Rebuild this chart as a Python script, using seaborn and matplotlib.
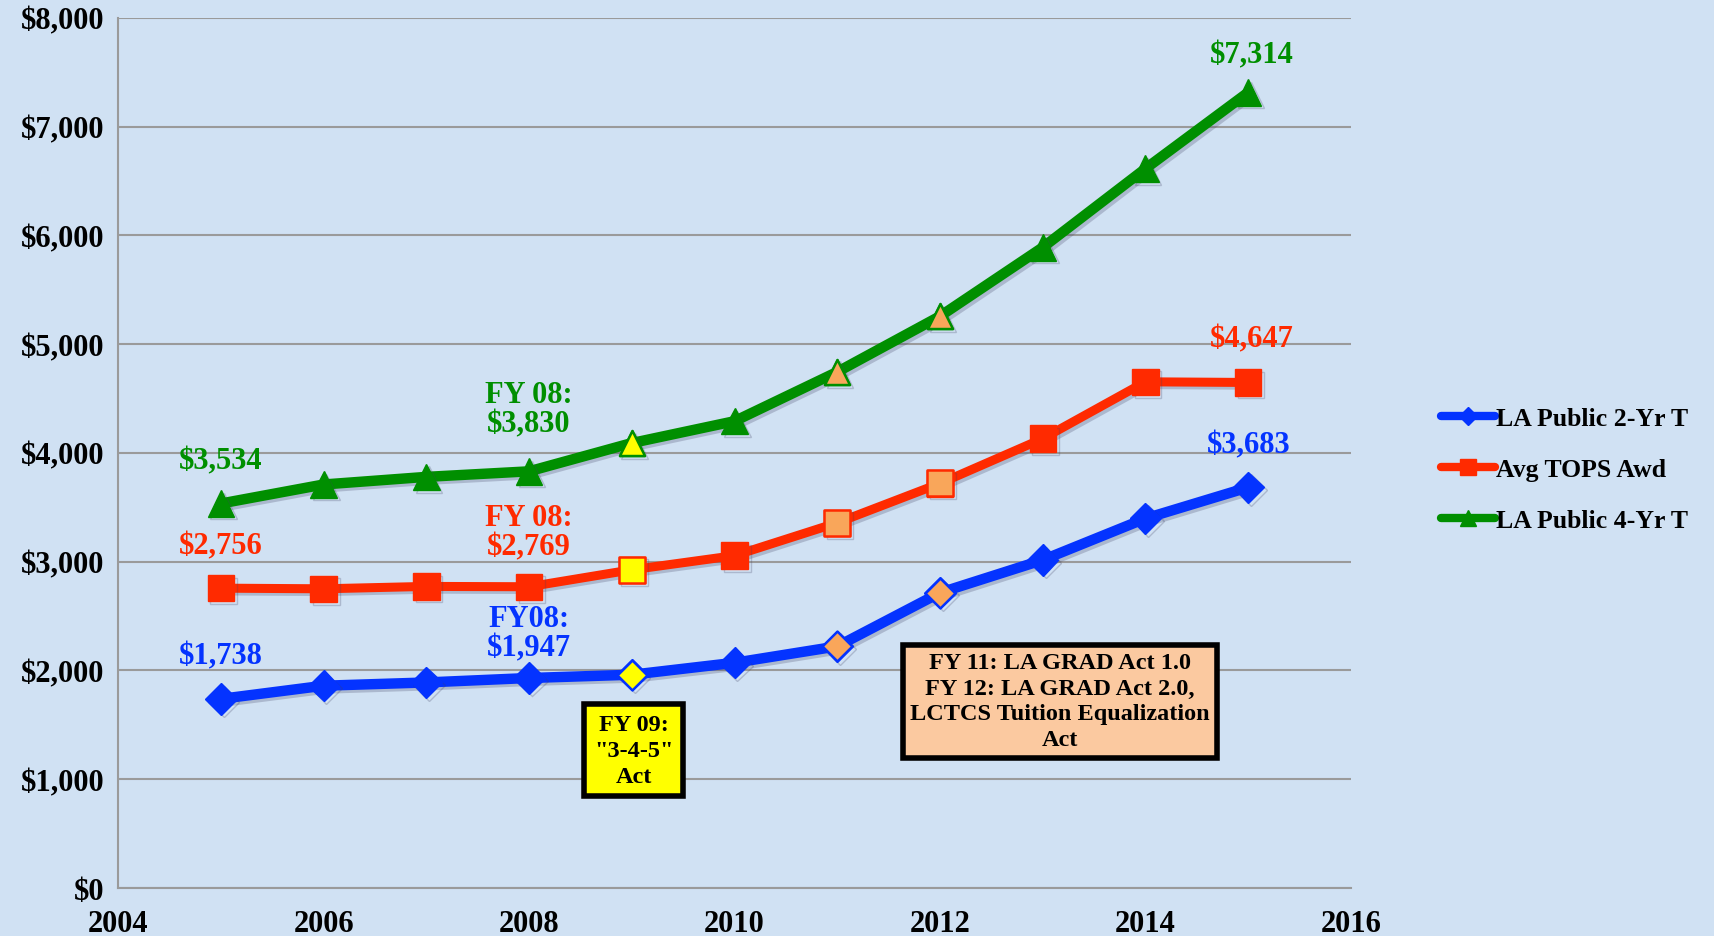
import matplotlib
matplotlib.use("Agg")
from matplotlib import pyplot as plt
from matplotlib.lines import Line2D
import matplotlib.patheffects as pe
import matplotlib.ticker as mticker
import seaborn as sns

# Datos
years = [2005, 2006, 2007, 2008, 2009, 2010, 2011, 2012, 2013, 2014, 2015]
two_yr = [1738, 1859, 1889, 1930, 1960, 2070, 2221, 2714, 3015, 3397, 3683]
tops = [2756, 2750, 2772, 2769, 2925, 3055, 3357, 3719, 4131, 4653, 4647]
four_yr = [3534, 3709, 3779, 3830, 4090, 4291, 4744, 5256, 5889, 6613, 7314]
series_names = ["LA Public 2-Yr T", "Avg TOPS Awd", "LA Public 4-Yr T"]
yellow_years = [2009]
orange_years = [2011, 2012]

BG = "#D0E1F3"
BLUE = "#0433FF"
RED = "#FF2A00"
GREEN = "#008F00"
YELLOW = "#FFFF00"
ORANGE = "#F9A65A"
BOX_ORANGE = "#FBC9A0"

sns.set_style("white", {"axes.facecolor": BG, "figure.facecolor": BG})
plt.rcParams["font.family"] = ["Liberation Serif", "DejaVu Serif"]
plt.rcParams["font.weight"] = "bold"
plt.rcParams["text.color"] = "black"
plt.rcParams["xtick.labelcolor"] = "black"
plt.rcParams["ytick.labelcolor"] = "black"

fig = plt.figure(figsize=(17.14, 9.37), dpi=100)
ax = fig.add_axes([0.0689, 0.0513, 0.7193, 0.9287])

shadow = [pe.SimpleLineShadow(offset=(2, -2), alpha=0.25, shadow_color="#404060"), pe.Normal()]

config = [
    (two_yr, BLUE, "D", 16, 7.5),
    (tops, RED, "s", 19, 6.5),
    (four_yr, GREEN, "^", 19, 7.5),
]
handles = []
for (vals, color, mk, ms, lw), name in zip(config, series_names):
    sns.lineplot(x=years, y=vals, color=color, lw=lw, marker=mk, markersize=ms,
                 markeredgecolor=color, markeredgewidth=1, ax=ax,
                 path_effects=shadow, zorder=3)
    for yrs, fc in [(yellow_years, YELLOW), (orange_years, ORANGE)]:
        pts_x = [y for y in years if y in yrs]
        pts_y = [v for y, v in zip(years, vals) if y in yrs]
        sns.scatterplot(x=pts_x, y=pts_y, marker=mk, s=(ms * 0.95) ** 2,
                        color=fc, edgecolor=color, linewidth=1.8, ax=ax, zorder=4)
    handles.append(Line2D([0], [0], color=color, lw=6, marker=mk, markersize=ms * 0.6,
                          solid_capstyle="round", label=name))

ax.set_xlim(2004, 2016)
ax.set_ylim(0, 8000)
ax.set_xticks(range(2004, 2017, 2))
ax.set_yticks(range(0, 8001, 1000))
ax.yaxis.set_major_formatter(mticker.FuncFormatter(lambda v, p: f"${v:,.0f}"))
ax.tick_params(axis="both", labelsize=22, length=6, color="#9A9A9A", width=1.5, pad=4)
ax.tick_params(axis="x", pad=9)
for lab in ax.get_xticklabels() + ax.get_yticklabels():
    lab.set_fontweight("bold")
ax.yaxis.grid(True, color="#9A9A9A", lw=1.5)
ax.xaxis.grid(False)
for s in ["top", "right"]:
    ax.spines[s].set_visible(False)
for s in ["left", "bottom"]:
    ax.spines[s].set_color("#9A9A9A")
    ax.spines[s].set_linewidth(1.5)
ax.set_xlabel("")
ax.set_ylabel("")

# Etiquetas de valores
labels = [
    (2005.0, 2131, "$1,738", BLUE),
    (2008.0, 2342, "FY08:\n$1,947", BLUE),
    (2005.0, 3146, "$2,756", RED),
    (2008.0, 3266, "FY 08:\n$2,769", RED),
    (2005.0, 3930, "$3,534", GREEN),
    (2008.0, 4402, "FY 08:\n$3,830", GREEN),
    (2015.03, 7658, "$7,314", GREEN),
    (2015.03, 5045, "$4,647", RED),
    (2015.0, 4070, "$3,683", BLUE),
]
for x, y, t, c in labels:
    ax.text(x, y, t, color=c, fontsize=22, fontweight="bold", ha="center", va="center",
            linespacing=1.02, zorder=5)

ax.text(2009.02, 1266, 'FY 09:\n"3-4-5"\nAct', fontsize=17.5, fontweight="bold",
        ha="center", va="center", linespacing=1.3, zorder=6,
        bbox=dict(boxstyle="square,pad=0.4", fc=YELLOW, ec="black", lw=4))
ax.text(2013.17, 1718, "FY 11: LA GRAD Act 1.0\nFY 12: LA GRAD Act 2.0,\nLCTCS Tuition Equalization\nAct",
        fontsize=17.5, fontweight="bold", ha="center", va="center", linespacing=1.3, zorder=6,
        bbox=dict(boxstyle="square,pad=0.3", fc=BOX_ORANGE, ec="black", lw=4))

leg = fig.legend(handles=handles, loc="center left", bbox_to_anchor=(0.827, 0.498),
                 frameon=False, fontsize=18.5, handlelength=2.1, handletextpad=0.05,
                 labelspacing=1.1, numpoints=1)
for t in leg.get_texts():
    t.set_fontweight("bold")

fig.savefig("out.png", dpi=100, facecolor=BG)
